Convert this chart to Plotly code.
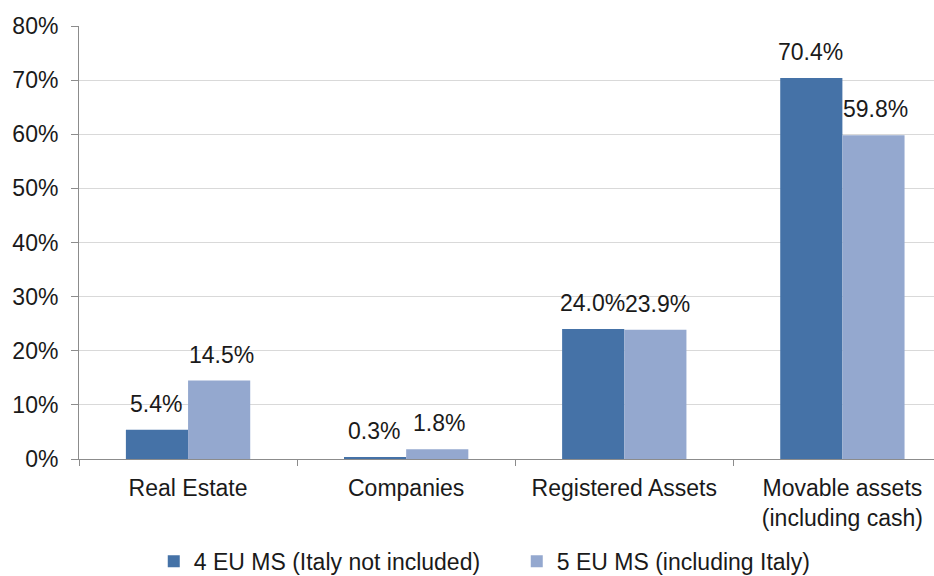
import plotly.graph_objects as go

categories = ["Real Estate", "Companies", "Registered Assets", "Movable assets<br>(including cash)"]
series_names = ["4 EU MS (Italy not included)", "5 EU MS (including Italy)"]
without_italy = [5.4, 0.3, 24.0, 70.4]
with_italy = [14.5, 1.8, 23.9, 59.8]

dark = "#4572A7"
light = "#94A8CF"
txt = "#1a1a1a"
font_family = "Liberation Sans, Arial, sans-serif"
fs = 23

fig = go.Figure()
fig.add_trace(go.Bar(x=categories, y=without_italy, name=series_names[0],
                     marker=dict(color=dark, line=dict(width=0))))
fig.add_trace(go.Bar(x=categories, y=with_italy, name=series_names[1],
                     marker=dict(color=light, line=dict(width=0))))

# value labels sit a bit above each bar
for vals, shift in [(without_italy, -32), (with_italy, 33)]:
    for c, v in zip(categories, vals):
        fig.add_annotation(x=c, y=v, text=f"{v:.1f}%", showarrow=False,
                           xshift=shift, yshift=11, yanchor="bottom",
                           font=dict(size=fs, color=txt, family=font_family))

fig.update_layout(
    width=934, height=576,
    margin=dict(l=79, r=0, t=26, b=117, autoexpand=False),
    paper_bgcolor="white", plot_bgcolor="white",
    barmode="group", bargap=0.43, bargroupgap=0,
    font=dict(family=font_family, size=fs, color=txt),
    showlegend=True,
    legend=dict(orientation="h", x=0.512, xanchor="center", y=-0.236, yanchor="middle",
                font=dict(size=fs, color=txt), itemwidth=30, entrywidth=318),
)
fig.update_xaxes(range=[-0.5, 3.42], showline=True, linecolor="#8c8c8c", linewidth=1,
                 ticks="outside", tickson="boundaries", ticklen=6, tickcolor="#8c8c8c",
                 tickfont=dict(size=fs, color=txt), showgrid=False, automargin=False,
                 ticklabelstandoff=8)
fig.update_yaxes(range=[0, 80], dtick=10, ticksuffix="%", showline=True,
                 linecolor="#8c8c8c", linewidth=1, ticks="outside", ticklen=7,
                 tickcolor="#8c8c8c", gridcolor="#d9d9d9", gridwidth=1,
                 tickfont=dict(size=fs, color=txt), ticklabelstandoff=8, zeroline=False,
                 automargin=False)

# page body has a default 8px margin; drop it so the figure fills the window
fig.write_html("out.html", config={"displayModeBar": False},
               post_script="document.body.style.margin='0';")
